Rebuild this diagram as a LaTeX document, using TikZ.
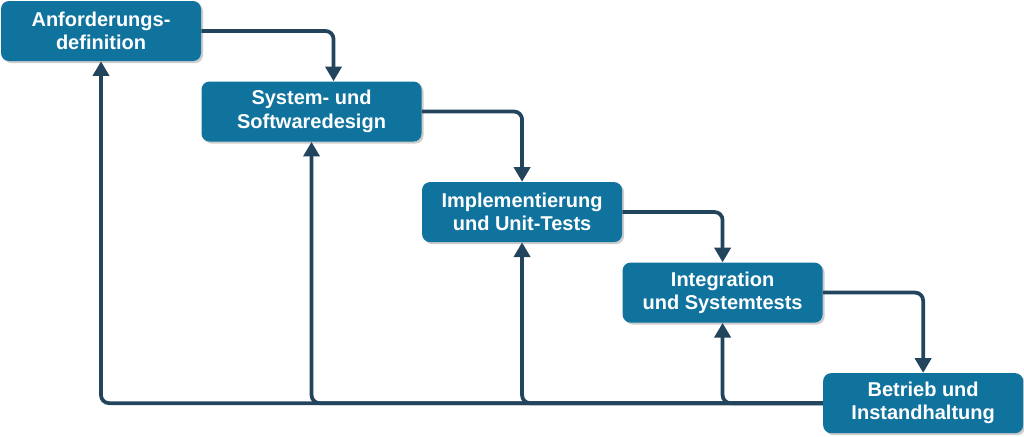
\documentclass[tikz,border=0pt]{standalone}
\usepackage{fontspec}
\setmainfont{Liberation Sans}
\usepackage{xcolor}
\usepackage{tikz}
\usetikzlibrary{arrows.meta, positioning, shadows}
\definecolor{phase-blue}{RGB}{16,115,158}
\definecolor{flow-navy}{RGB}{35,68,93}

\begin{document}
\begin{tikzpicture}[
    x=0.75pt, y=-0.75pt,
    phase/.style={rectangle, fill=phase-blue, text=white, rounded corners=6pt, minimum width=150pt, minimum height=45pt, align=center, font=\bfseries\fontsize{15}{17.5}\selectfont, drop shadow={shadow xshift=1.5pt, shadow yshift=-1.5pt, fill=black, opacity=0.2}},
    flow/.style={draw=flow-navy, line width=2.8pt, rounded corners=6pt, -{Triangle[width=12pt, length=11pt]}},
]
\useasboundingbox (0,0) rectangle (1024,436);

% Phases
\node[phase] (req) at (101,31) {Anforderungs-\\definition};
\node[phase, minimum width=165pt, below right=15pt and 0pt of req] (design) {System- und\\Softwaredesign};
\node[phase, below right=30pt and 0pt of design] (impl) {Implementierung\\und Unit-Tests};
\node[phase, below right=15pt and 0pt of impl] (integ) {Integration\\und Systemtests};
\node[phase, below right=37.5pt and 0pt of integ] (ops) {Betrieb und\\Instandhaltung};

% Forward flow
\draw[flow] (req.east) -| ([xshift=16.5pt]design.north);
\draw[flow] (design.east) -| (impl.north);
\draw[flow] (impl.east) -| (integ.north);
\draw[flow] (integ.east) -| (ops.north);

% Feedback
\foreach \target in {req, design, impl, integ}
    \draw[flow] (ops.west) -| (\target.south);

\end{tikzpicture}
\end{document}
